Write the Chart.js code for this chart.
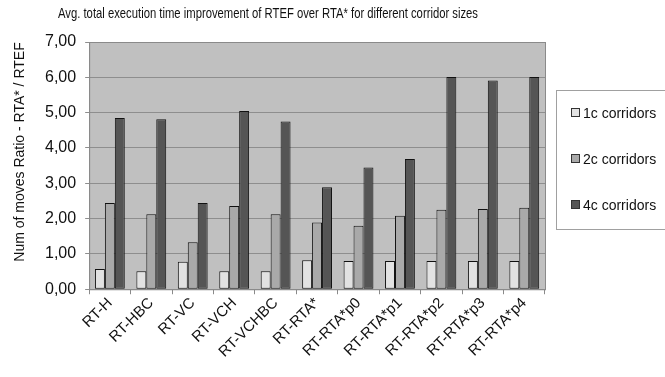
<!DOCTYPE html>
<html>
<head>
<meta charset="utf-8">
<script src="https://cdn.jsdelivr.net/npm/chart.js@4"></script>
<style>
  html, body { margin: 0; padding: 0; background: #fff; }
  #wrap { width: 665px; height: 377px; }
</style>
</head>
<body>
<div id="wrap"><canvas id="chart" width="665" height="377"></canvas></div>
<script>
const categories = ["RT-H", "RT-HBC", "RT-VC", "RT-VCH", "RT-VCHBC", "RT-RTA*", "RT-RTA*p0", "RT-RTA*p1", "RT-RTA*p2", "RT-RTA*p3", "RT-RTA*p4"];
const corr1c = [0.57, 0.51, 0.78, 0.51, 0.51, 0.82, 0.80, 0.80, 0.80, 0.80, 0.80];
const corr2c = [2.44, 2.12, 1.33, 2.36, 2.12, 1.89, 1.80, 2.08, 2.25, 2.27, 2.31];
const corr4c = [4.85, 4.81, 2.44, 5.05, 4.75, 2.89, 3.45, 3.69, 6.01, 5.91, 6.01];
const seriesNames = ["1c corridors", "2c corridors", "4c corridors"];
const seriesColors = ["#e2e2e2", "#a9a9a9", "#555555"];
const yTicks = [0, 1, 2, 3, 4, 5, 6, 7];
const chartTitle = "Avg. total execution time improvement of RTEF over RTA* for different corridor sizes";
const yTitle = "Num of moves Ratio - RTA* / RTEF";

// grey plot background, frame, legend box and the titles
const decor = {
  id: "decor",
  beforeDraw(chart) {
    const { ctx, chartArea: a } = chart;
    ctx.save();
    ctx.fillStyle = "#c0c0c0";
    ctx.fillRect(a.left, a.top, a.right - a.left, a.bottom - a.top);
    ctx.restore();
  },
  afterDraw(chart) {
    const { ctx, chartArea: a } = chart;
    ctx.save();
    ctx.strokeStyle = "#8a8a8a";
    ctx.lineWidth = 1;
    ctx.strokeRect(a.left + 0.5, a.top + 0.5, a.right - a.left, a.bottom - a.top);

    // legend
    ctx.strokeStyle = "#a0a0a0";
    ctx.strokeRect(556.5, 90.5, 120, 139);
    ctx.font = "14px 'Liberation Sans', Arial";
    ctx.textAlign = "left";
    ctx.textBaseline = "middle";
    chart.data.datasets.forEach((d, i) => {
      const y = 113 + i * 46;
      ctx.fillStyle = d.backgroundColor;
      ctx.fillRect(572, y - 4, 7, 7);
      ctx.strokeStyle = "#333";
      ctx.strokeRect(571.5, y - 4.5, 8, 8);
      ctx.fillStyle = "#111";
      ctx.fillText(d.label, 583, y + 1);
    });

    // y axis title, sits a bit above the axis centre in the original
    ctx.save();
    ctx.translate(20, 152);
    ctx.rotate(-Math.PI / 2);
    ctx.textAlign = "center";
    ctx.fillStyle = "#111";
    ctx.fillText(yTitle, 0, 0);
    ctx.restore();

    // title, condensed like the original
    ctx.font = "15px 'Liberation Sans', Arial";
    ctx.fillStyle = "#111";
    ctx.textAlign = "center";
    const w = ctx.measureText(chartTitle).width;
    ctx.translate(268, 14);
    ctx.scale(420 / w, 1);
    ctx.fillText(chartTitle, 0, 0);
    ctx.restore();
  }
};

new Chart(document.getElementById("chart"), {
  type: "bar",
  data: {
    labels: categories,
    datasets: [
      { label: seriesNames[0], data: corr1c, backgroundColor: seriesColors[0] },
      { label: seriesNames[1], data: corr2c, backgroundColor: seriesColors[1] },
      { label: seriesNames[2], data: corr4c, backgroundColor: seriesColors[2] }
    ]
  },
  options: {
    responsive: false,
    animation: false,
    datasets: {
      bar: { borderColor: "#111", borderWidth: 1, borderSkipped: false, barPercentage: 1, categoryPercentage: 0.72 }
    },
    layout: { padding: { left: 36, right: 120, top: 42, bottom: 16 } },
    plugins: {
      title: { display: false },
      legend: { display: false },
      tooltip: { enabled: false }
    },
    scales: {
      x: {
        grid: { drawOnChartArea: false, drawTicks: true, tickLength: 5, color: "#8a8a8a" },
        border: { color: "#8a8a8a" },
        ticks: {
          minRotation: 45,
          maxRotation: 45,
          padding: 0,
          color: "#111",
          font: { family: "Liberation Sans", size: 15 }
        }
      },
      y: {
        min: 0,
        max: 7,
        afterBuildTicks(axis) { axis.ticks = yTicks.map(v => ({ value: v })); },
        grid: { color: "#8e8e8e", tickLength: 4 },
        border: { color: "#8a8a8a" },
        ticks: {
          color: "#111",
          padding: 9,
          font: { family: "Liberation Sans", size: 16 },
          callback: v => v.toFixed(2).replace(".", ",")
        }
      }
    }
  },
  plugins: [decor]
});
</script>
</body>
</html>
